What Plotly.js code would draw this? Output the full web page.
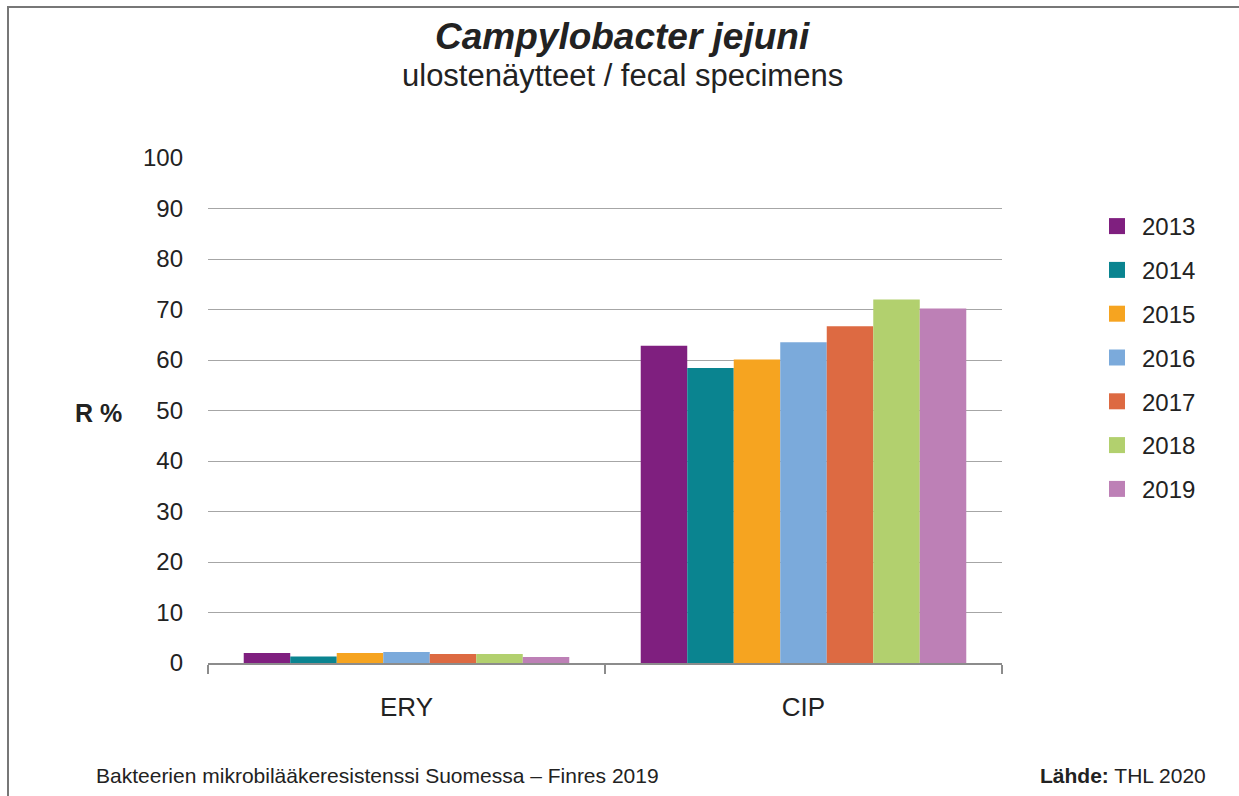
<!DOCTYPE html>
<html><head><meta charset="utf-8">
<script src="https://cdn.plot.ly/plotly-3.0.1.min.js"></script>
<style>html,body{margin:0;padding:0;background:#fff;}#chart{width:1239px;height:796px;}</style>
</head><body><div id="chart"></div>
<script>
const categories = ["ERY", "CIP"];
const years = ["2013", "2014", "2015", "2016", "2017", "2018", "2019"];
const colors = ["#7F1F7F", "#0A8490", "#F6A420", "#7BAADB", "#DD6A42", "#B2D06E", "#BD80B6"];
const v2013 = [2.0, 62.8];
const v2014 = [1.3, 58.4];
const v2015 = [2.0, 60.1];
const v2016 = [2.2, 63.5];
const v2017 = [1.8, 66.7];
const v2018 = [1.8, 72.0];
const v2019 = [1.2, 70.2];
const series = [v2013, v2014, v2015, v2016, v2017, v2018, v2019];
const yTicks = [0,10,20,30,40,50,60,70,80,90,100];

const font = "Liberation Sans, Arial, sans-serif";
const bars = series.map((vals, i) => ({
  type: "bar", x: categories, y: vals, name: years[i],
  marker: {color: colors[i], line: {width: 0}},
  showlegend: false
}));
// legend entries (square swatches)
const legendItems = years.map((yr, i) => ({
  type: "scatter", mode: "markers", x: [null], y: [null], name: yr,
  marker: {color: colors[i], symbol: "square", size: 18},
  legendgroup: "g" + i, hoverinfo: "skip"
}));

// plot area pixel bounds
const L = 208, R = 1002, T = 158, B = 663, W = 1239, H = 796;
const px = x => (x - L) / (R - L);
const py = y => (B - y) / (B - T);

const layout = {
  width: W, height: H,
  margin: {l: L, r: W - R, t: T, b: H - B},
  paper_bgcolor: "#fff", plot_bgcolor: "#fff",
  font: {family: font, color: "#222", size: 22},
  barmode: "group", bargap: 0.18, bargroupgap: 0,
  showlegend: true,
  legend: {x: px(1092), xanchor: "left", y: py(204), yanchor: "top",
           font: {size: 24, color: "#222"}, tracegroupgap: 9.6, itemwidth: 40,
           itemsizing: "trace", bgcolor: "rgba(0,0,0,0)"},
  xaxis: {type: "category", showgrid: false, showline: true, linecolor: "#8c8c8c", linewidth: 2,
          ticks: "outside", tickson: "boundaries", ticklen: 9, tickcolor: "#8c8c8c", tickwidth: 2,
          tickfont: {size: 26, color: "#222"}, ticklabelstandoff: 20, fixedrange: true},
  yaxis: {range: [0, 100], tickvals: yTicks, ticktext: yTicks.map(String), showgrid: true,
          gridcolor: "#a6a6a6", gridwidth: 1, zeroline: false, showline: false, ticks: "",
          tickfont: {size: 24, color: "#222"}, ticklabelstandoff: 24, fixedrange: true},
  annotations: [
    {text: "<b><i>Campylobacter jejuni</i></b>", xref: "paper", yref: "paper", x: px(622), y: py(36),
     xanchor: "center", yanchor: "middle", showarrow: false, font: {size: 37, color: "#222"}},
    {text: "ulostenäytteet / fecal specimens", xref: "paper", yref: "paper", x: px(622), y: py(75),
     xanchor: "center", yanchor: "middle", showarrow: false, font: {size: 31, color: "#222"}},
    {text: "<b>R %</b>", xref: "paper", yref: "paper", x: px(98), y: py(413),
     xanchor: "center", yanchor: "middle", showarrow: false, font: {size: 25, color: "#222"}},
    {text: "Bakteerien mikrobilääkeresistenssi Suomessa – Finres 2019", xref: "paper", yref: "paper",
     x: px(94), y: py(775), xanchor: "left", yanchor: "middle", showarrow: false, font: {size: 21, color: "#222"}},
    {text: "<b>Lähde:</b> THL 2020", xref: "paper", yref: "paper",
     x: px(1208), y: py(775), xanchor: "right", yanchor: "middle", showarrow: false, font: {size: 21, color: "#222"}}
  ],
  shapes: [
    {type: "line", xref: "paper", yref: "paper", x0: px(7), x1: px(1239), y0: py(7), y1: py(7),
     line: {color: "#777", width: 2}},
    {type: "line", xref: "paper", yref: "paper", x0: px(8), x1: px(8), y0: py(6), y1: py(796),
     line: {color: "#777", width: 2}}
  ]
};
Plotly.newPlot("chart", bars.concat(legendItems), layout, {displayModeBar: false, staticPlot: true});
</script></body></html>
